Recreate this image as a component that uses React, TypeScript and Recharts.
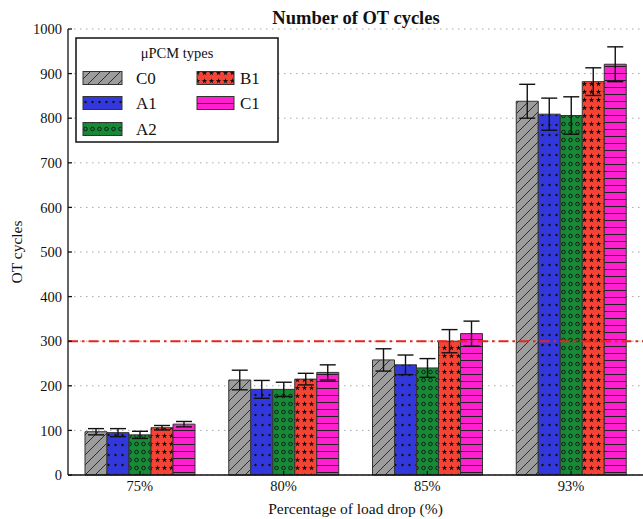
import React from 'react';
import {
  BarChart,
  Bar,
  XAxis,
  YAxis,
  CartesianGrid,
  ErrorBar,
  ReferenceLine,
} from 'recharts';

// load-drop levels on the x axis
const categories = ['75%', '80%', '85%', '93%'];

// mean OT cycles and error per μPCM type
const c0 = [97, 213, 258, 838];
const c0Err = [7, 22, 25, 38];
const a1 = [95, 192, 247, 809];
const a1Err = [9, 20, 22, 36];
const a2 = [90, 192, 240, 806];
const a2Err = [8, 16, 21, 42];
const b1 = [106, 215, 300, 882];
const b1Err = [5, 13, 26, 31];
const c1 = [114, 230, 317, 921];
const c1Err = [6, 17, 28, 39];

const yTicks = [0, 100, 200, 300, 400, 500, 600, 700, 800, 900, 1000];
const threshold = 300;

const seriesNames = ['C0', 'A1', 'A2', 'B1', 'C1'];
const seriesValues = [c0, a1, a2, b1, c1];
const seriesErrors = [c0Err, a1Err, a2Err, b1Err, c1Err];

const data = categories.map((cat, i) => {
  const row: Record<string, string | number> = { cat };
  seriesNames.forEach((name, s) => {
    row[name] = seriesValues[s][i];
    row[name + 'err'] = seriesErrors[s][i];
  });
  return row;
});

const FONT = '"Liberation Serif", "DejaVu Serif", serif';
const EDGE = '#333';

function Patterns() {
  return (
    <defs>
      <pattern id="pat-C0" width="10" height="10" patternUnits="userSpaceOnUse">
        <rect width="10" height="10" fill="#9c9c9c" />
        <path d="M0,10 L10,0 M-2.5,2.5 L2.5,-2.5 M7.5,12.5 L12.5,7.5" stroke="#222" strokeWidth="0.9" />
      </pattern>
      <pattern id="pat-A1" width="7" height="10" patternUnits="userSpaceOnUse">
        <rect width="7" height="10" fill="#3338dd" />
        <circle cx="3.5" cy="5" r="1.2" fill="#111" />
      </pattern>
      <pattern id="pat-A2" width="7" height="8" patternUnits="userSpaceOnUse">
        <rect width="7" height="8" fill="#168a36" />
        <circle cx="3.5" cy="4" r="1.8" fill="none" stroke="#111" strokeWidth="0.9" />
      </pattern>
      <pattern id="pat-B1" width="7" height="8" patternUnits="userSpaceOnUse">
        <rect width="7" height="8" fill="#f54436" />
        <path
          d="M3.5,1 L4.2,3 L6.3,3 L4.6,4.3 L5.3,6.4 L3.5,5.1 L1.7,6.4 L2.4,4.3 L0.7,3 L2.8,3 Z"
          fill="#111"
        />
      </pattern>
      <pattern id="pat-C1" width="10" height="7" patternUnits="userSpaceOnUse">
        <rect width="10" height="7" fill="#ff1ed0" />
        <line x1="0" y1="3.5" x2="10" y2="3.5" stroke="#222" strokeWidth="1" />
      </pattern>
    </defs>
  );
}

function YLabel(props: any) {
  const vb = props.viewBox || { x: 0, y: 0, width: 0, height: 0 };
  const cx = vb.x + 16;
  const cy = vb.y + vb.height / 2;
  return (
    <text
      x={cx}
      y={cy}
      transform={`rotate(-90, ${cx}, ${cy})`}
      textAnchor="middle"
      dominantBaseline="central"
      fontFamily={FONT}
      fontSize={15.5}
      fill="#111"
    >
      OT cycles
    </text>
  );
}

function LegendBox() {
  const col1 = seriesNames.slice(0, 3);
  const col2 = seriesNames.slice(3);
  const rowY = [41, 66, 92];
  return (
    <svg width={204} height={106} style={{ position: 'absolute', left: 75, top: 37 }}>
      <rect x={1} y={1} width={202} height={104} fill="#fff" stroke="#111" strokeWidth={1.5} />
      <text x={102} y={21} textAnchor="middle" fontFamily={FONT} fontSize={14.5} fill="#111">
        μPCM types
      </text>
      {col1.map((name, i) => (
        <g key={name}>
          <rect x={8} y={rowY[i] - 6.5} width={39} height={13} fill={`url(#pat-${name})`} stroke={EDGE} strokeWidth={1} />
          <text x={61} y={rowY[i] + 6} fontFamily={FONT} fontSize={17} fill="#111">
            {name}
          </text>
        </g>
      ))}
      {col2.map((name, i) => (
        <g key={name}>
          <rect x={122} y={rowY[i] - 6.5} width={37} height={13} fill={`url(#pat-${name})`} stroke={EDGE} strokeWidth={1} />
          <text x={165} y={rowY[i] + 6} fontFamily={FONT} fontSize={17} fill="#111">
            {name}
          </text>
        </g>
      ))}
    </svg>
  );
}

export default function App() {
  return (
    <div style={{ position: 'absolute', left: 0, top: 0, width: 643, height: 519, background: '#fff' }}>
      <div
        style={{
          position: 'absolute',
          left: 0,
          top: 7,
          width: 712,
          textAlign: 'center',
          fontFamily: FONT,
          fontWeight: 'bold',
          fontSize: 18.5,
          lineHeight: '22px',
          color: '#111',
        }}
      >
        Number of OT cycles
      </div>
      <BarChart
        width={643}
        height={519}
        data={data}
        margin={{ top: 29, right: 0, bottom: 0, left: 0 }}
        barCategoryGap={17}
        barGap={0}
      >
        <Patterns />
        <CartesianGrid vertical={false} stroke="#a8a8a8" strokeDasharray="1.5 4.5" />
        <XAxis
          dataKey="cat"
          height={44}
          stroke="#111"
          strokeWidth={1.3}
          tickSize={-4}
          tickMargin={10}
          tick={{ fontFamily: FONT, fontSize: 14.5, fill: '#111' }}
          label={{
            value: 'Percentage of load drop (%)',
            position: 'insideBottom',
            offset: 5,
            fontFamily: FONT,
            fontSize: 15.5,
            fill: '#111',
          }}
        />
        <XAxis
          xAxisId="top"
          dataKey="cat"
          orientation="top"
          height={0}
          stroke="#111"
          strokeWidth={1.3}
          tickSize={-4}
          tick={false}
        />
        <YAxis
          width={68}
          domain={[0, 1000]}
          ticks={yTicks}
          stroke="#111"
          strokeWidth={1.3}
          tickSize={-4}
          tickMargin={10}
          interval={0}
          tick={{ fontFamily: FONT, fontSize: 14.5, fill: '#111' }}
          label={<YLabel />}
        />
        <YAxis
          yAxisId="right"
          orientation="right"
          width={0}
          domain={[0, 1000]}
          ticks={yTicks}
          stroke="#111"
          strokeWidth={1.3}
          tickSize={-4}
          tick={false}
        />
        {seriesNames.map((name) => (
          <Bar
            key={name}
            dataKey={name}
            fill={`url(#pat-${name})`}
            stroke={EDGE}
            strokeWidth={1}
            isAnimationActive={false}
          >
            <ErrorBar dataKey={name + 'err'} width={8} stroke="#111" strokeWidth={1.4} direction="y" />
          </Bar>
        ))}
        <ReferenceLine y={threshold} stroke="#e8241c" strokeWidth={2} strokeDasharray="10 4 2.5 4" />
      </BarChart>
      <LegendBox />
    </div>
  );
}
